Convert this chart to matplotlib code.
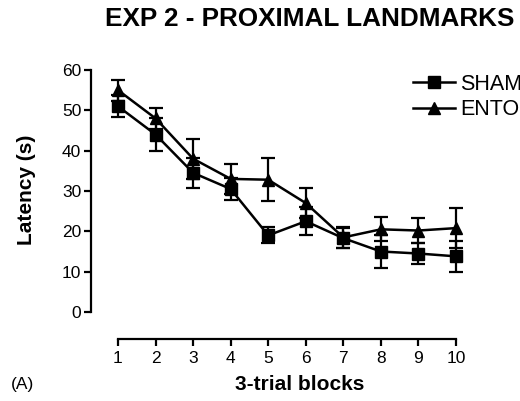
import matplotlib
matplotlib.use('Agg')
import matplotlib.pyplot as plt
from matplotlib.lines import Line2D

plt.rcParams['font.family'] = ['Liberation Sans', 'DejaVu Sans']

# data
blocks = [1, 2, 3, 4, 5, 6, 7, 8, 9, 10]
sham = [51, 44, 34.5, 30.5, 19, 22.5, 18.3, 15, 14.5, 13.8]
sham_err = [2.7, 4.2, 3.8, 2.8, 2.0, 3.5, 2.5, 4.0, 2.6, 3.8]
ento = [55, 48, 38, 33, 32.8, 27, 18.5, 20.5, 20.2, 20.8]
ento_err = [2.6, 2.7, 5.0, 3.8, 5.3, 3.8, 2.6, 3.0, 3.2, 5.0]

fig = plt.figure(figsize=(5.2, 4.01), dpi=100)
W, H = 520, 401
ax = fig.add_axes([118 / W, 1 - 312 / H, (456 - 118) / W, (312 - 70) / H])

ax.errorbar(blocks, sham, yerr=sham_err, color='black', marker='s', markersize=8,
            linewidth=1.8, elinewidth=1.6, capsize=5, capthick=1.6,
            clip_on=False, zorder=3)
ax.errorbar(blocks, ento, yerr=ento_err, color='black', marker='^', markersize=8,
            linewidth=1.8, elinewidth=1.6, capsize=5, capthick=1.6,
            clip_on=False, zorder=3)

ax.set_xlim(1, 10)
ax.set_ylim(0, 60)
ax.set_xticks(blocks)
ax.set_yticks([0, 10, 20, 30, 40, 50, 60])

for s in ['top', 'right']:
    ax.spines[s].set_visible(False)
ax.spines['left'].set_position(('outward', 19.5))
ax.spines['bottom'].set_position(('outward', 19.5))
ax.spines['left'].set_bounds(0, 60)
ax.spines['bottom'].set_bounds(1, 10)
ax.spines['left'].set_linewidth(1.6)
ax.spines['bottom'].set_linewidth(1.6)
ax.tick_params(axis='both', direction='out', length=5, width=1.6, labelsize=12.5)
ax.tick_params(axis='y', pad=2)

fig.text(27 / W, 1 - 190 / H, 'Latency (s)', fontsize=15, fontweight='bold',
         rotation=90, ha='center', va='center')
fig.text(300 / W, 1 - 385 / H, '3-trial blocks', fontsize=15, fontweight='bold',
         ha='center', va='center')
fig.text(105 / W, 1 - 19 / H, 'EXP 2 - PROXIMAL LANDMARKS', fontsize=18.8,
         fontweight='bold', ha='left', va='center')
fig.text(11 / W, 1 - 384 / H, '(A)', fontsize=12.5, ha='left', va='center')

handles = [Line2D([], [], color='black', marker='s', markersize=8, linewidth=1.8),
           Line2D([], [], color='black', marker='^', markersize=8, linewidth=1.8)]
ax.legend(handles, ['SHAM', 'ENTO'], loc='upper left',
          bbox_to_anchor=(413 / W, 1 - 74 / H), bbox_transform=fig.transFigure,
          frameon=False, fontsize=15.5, handlelength=1.95, handletextpad=0.25,
          labelspacing=0.2, borderpad=0, borderaxespad=0)

fig.savefig('out.png', dpi=100)
